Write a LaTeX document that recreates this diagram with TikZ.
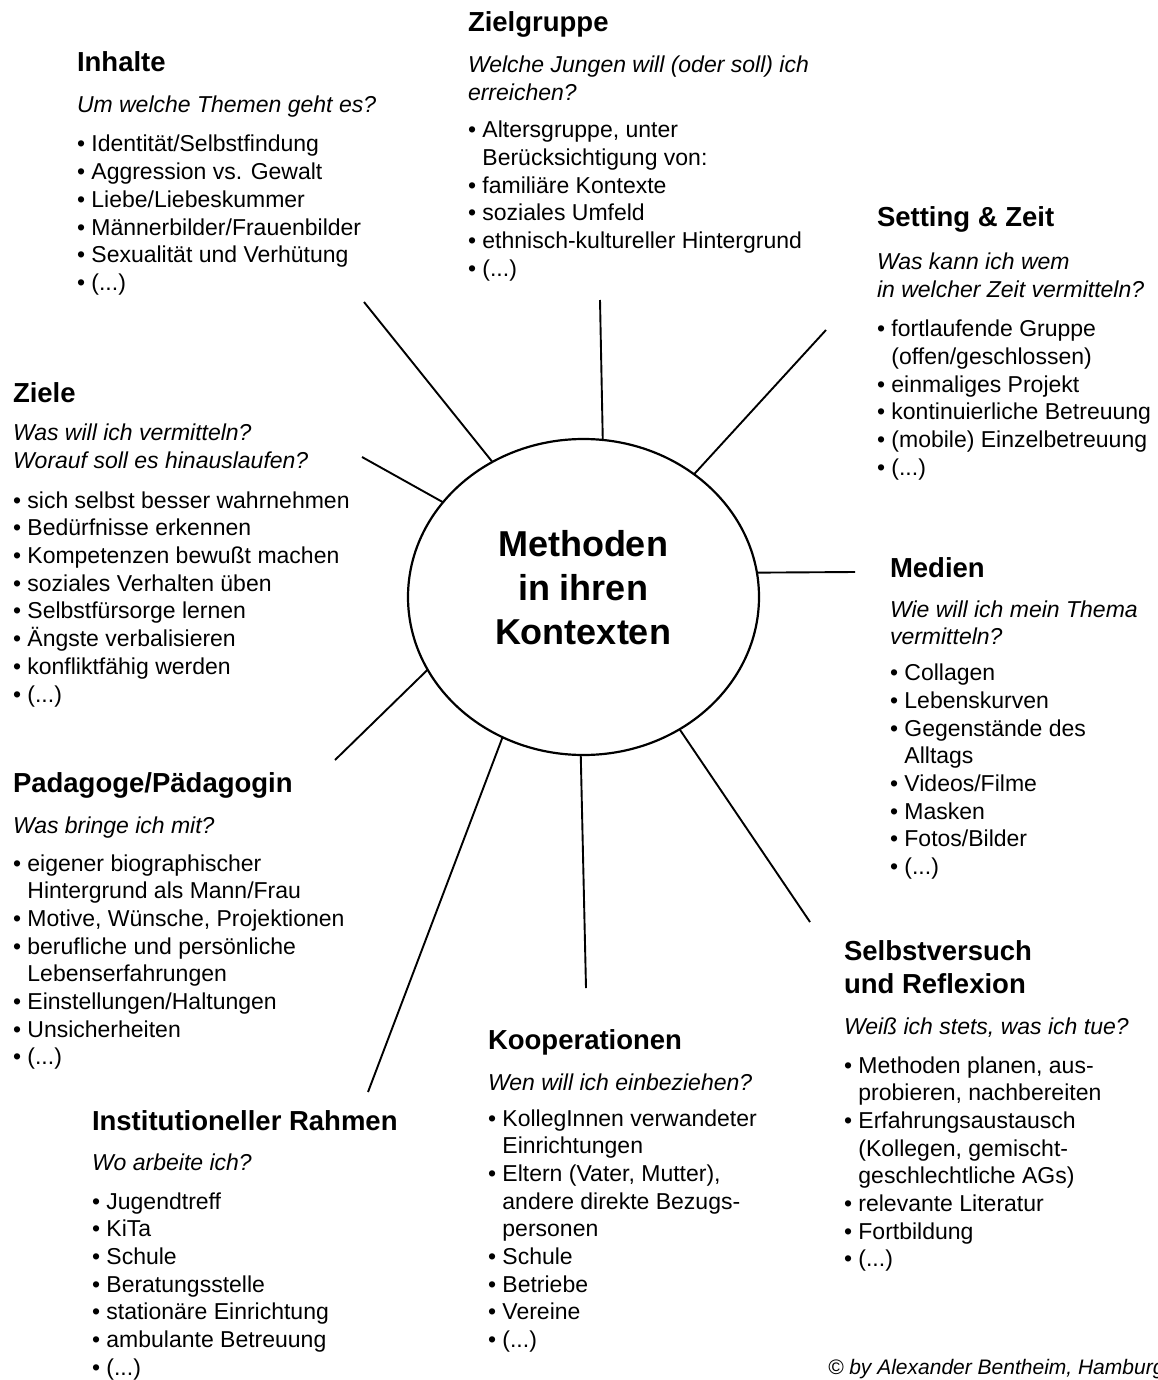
\documentclass[tikz,border=0pt]{standalone}
\usepackage{fontspec}
\setmainfont{Liberation Sans}
\usetikzlibrary{shapes.geometric}
\newcommand\bl{•\ }
\newcommand\cl{\phantom{•\ }}
\newcommand\hd[1]{{\fontsize{27.5}{27.7}\selectfont\bfseries #1}}
\newcommand\qu[1]{{\itshape #1}}
\newcommand\blockbox[1]{\parbox[t]{430pt}{\raggedright\fontsize{23}{27.7}\selectfont #1}}
\tikzset{
  blk/.style={anchor=base west, inner sep=0pt, outer sep=0pt},
  ray/.style={line width=1.9pt},
  hub/.style={ellipse, draw, line width=2.2pt, minimum width=351pt, minimum height=316pt, inner sep=0pt, outer sep=0pt},
  hubtxt/.style={align=center, inner sep=0pt, font=\fontsize{36}{44}\selectfont\bfseries}
}
\begin{document}
\begin{tikzpicture}[x=1pt,y=-1pt]
\fill[white] (0,0) rectangle (1158,1380);
\useasboundingbox (0,0) rectangle (1158,1380);

% central ellipse
\node[hub] (hub) at (583.5,597) {};
\node[hubtxt] (hubtext) at (583,588) {Methoden\\in ihren\\Kontexten};

% outer ends of rays
\coordinate (oinh) at (364,302);
\coordinate (ozg) at (600,300);
\coordinate (oset) at (826,330);
\coordinate (ozi) at (362,457);
\coordinate (omed) at (855,572);
\coordinate (opad) at (335,760);
\coordinate (oinst) at (368,1092);
\coordinate (okoop) at (586,988);
\coordinate (oselb) at (810,922);

\draw[ray] (oinh) -- (hub.124.7);
\draw[ray] (ozg) -- (hub.83);
\draw[ray] (oset) -- (hub.48.8);
\draw[ray] (ozi) -- (hub.146.4);
\draw[ray] (omed) -- (hub.8.2);
\draw[ray] (opad) -- (hub.205.3);
\draw[ray] (oinst) -- (hub.240.9);
\draw[ray] (okoop) -- (hub.269.1);
\draw[ray] (oselb) -- (hub.306.2);

% Inhalte
\node[blk] (inh) at (77,72) {\blockbox{%
\hd{Inhalte}\\[13.3pt]
\qu{Um welche Themen geht es?}\\[11.3pt]
\bl Identität/Selbstfindung\\
\bl Aggression vs. Gewalt\\
\bl Liebe/Liebeskummer\\
\bl Männerbilder/Frauenbilder\\
\bl Sexualität und Verhütung\\
\bl (...)}};

% Zielgruppe
\node[blk] (zg) at (468,32) {\blockbox{%
\hd{Zielgruppe}\\[13.3pt]
\qu{Welche Jungen will (oder soll) ich}\\
\qu{erreichen?}\\[9.3pt]
\bl Altersgruppe, unter\\
\cl Berücksichtigung von:\\
\bl familiäre Kontexte\\
\bl soziales Umfeld\\
\bl ethnisch-kultureller Hintergrund\\
\bl (...)}};

% Setting & Zeit
\node[blk] (set) at (877,227) {\blockbox{%
\hd{Setting \& Zeit}\\[15.3pt]
\qu{Was kann ich wem}\\
\qu{in welcher Zeit vermitteln?}\\[11.3pt]
\bl fortlaufende Gruppe\\
\cl (offen/geschlossen)\\
\bl einmaliges Projekt\\
\bl kontinuierliche Betreuung\\
\bl (mobile) Einzelbetreuung\\
\bl (...)}};

% Ziele
\node[blk] (zi) at (13,402) {\blockbox{%
\hd{Ziele}\\[11pt]
\qu{Was will ich vermitteln?}\\
\qu{Worauf soll es hinauslaufen?}\\[12pt]
\bl sich selbst besser wahrnehmen\\
\bl Bedürfnisse erkennen\\
\bl Kompetenzen bewußt machen\\
\bl soziales Verhalten üben\\
\bl Selbstfürsorge lernen\\
\bl Ängste verbalisieren\\
\bl konfliktfähig werden\\
\bl (...)}};

% Medien
\node[blk] (med) at (890,577) {\blockbox{%
\hd{Medien}\\[12.3pt]
\qu{Wie will ich mein Thema}\\
\qu{vermitteln?}\\[8.3pt]
\bl Collagen\\
\bl Lebenskurven\\
\bl Gegenstände des\\
\cl Alltags\\
\bl Videos/Filme\\
\bl Masken\\
\bl Fotos/Bilder\\
\bl (...)}};

% Padagoge
\node[blk] (pad) at (13,792) {\blockbox{%
\hd{Padagoge/Pädagogin}\\[13.3pt]
\qu{Was bringe ich mit?}\\[10.3pt]
\bl eigener biographischer\\
\cl Hintergrund als Mann/Frau\\
\bl Motive, Wünsche, Projektionen\\
\bl berufliche und persönliche\\
\cl Lebenserfahrungen\\
\bl Einstellungen/Haltungen\\
\bl Unsicherheiten\\
\bl (...)}};

% Institutioneller Rahmen
\node[blk] (inst) at (92,1130) {\blockbox{%
\hd{Institutioneller Rahmen}\\[12.3pt]
\qu{Wo arbeite ich?}\\[11.3pt]
\bl Jugendtreff\\
\bl KiTa\\
\bl Schule\\
\bl Beratungsstelle\\
\bl stationäre Einrichtung\\
\bl ambulante Betreuung\\
\bl (...)}};

% Kooperationen
\node[blk] (koop) at (488,1049) {\blockbox{%
\hd{Kooperationen}\\[13.3pt]
\qu{Wen will ich einbeziehen?}\\[8.3pt]
\bl KollegInnen verwandeter\\
\cl Einrichtungen\\
\bl Eltern (Vater, Mutter),\\
\cl andere direkte Bezugs-\\
\cl personen\\
\bl Schule\\
\bl Betriebe\\
\bl Vereine\\
\bl (...)}};

% Selbstversuch und Reflexion
\node[blk] (selb) at (844,960) {\blockbox{%
\hd{Selbstversuch}\\[5.3pt]
\hd{und Reflexion}\\[13.3pt]
\qu{Weiß ich stets, was ich tue?}\\[11.3pt]
\bl Methoden planen, aus-\\
\cl probieren, nachbereiten\\
\bl Erfahrungsaustausch\\
\cl (Kollegen, gemischt-\\
\cl geschlechtliche AGs)\\
\bl relevante Literatur\\
\bl Fortbildung\\
\bl (...)}};

% copyright
\node[blk, font=\fontsize{21}{25}\selectfont\itshape] (copy) at (828,1374) {© by Alexander Bentheim, Hamburg};
\end{tikzpicture}
\end{document}
